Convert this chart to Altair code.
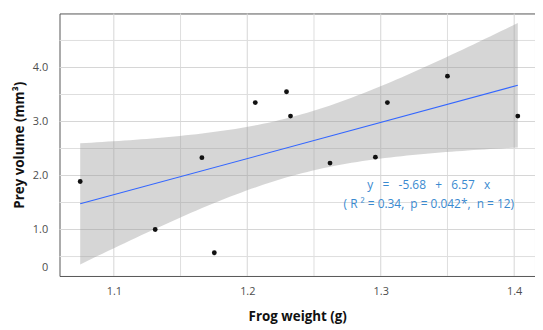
import numpy as np
import pandas as pd
import altair as alt

# data
weight = [1.0748, 1.131, 1.166, 1.1753, 1.206, 1.2294, 1.2324, 1.262, 1.296, 1.305, 1.350, 1.4027]
volume = [1.89, 1.00, 2.33, 0.57, 3.35, 3.55, 3.10, 2.23, 2.34, 3.35, 3.84, 3.10]

x_major = [1.1, 1.2, 1.3, 1.4]
x_minor = [1.15, 1.25, 1.35]
y_major = [1, 2, 3, 4]
y_minor = [0.5, 1.5, 2.5, 3.5, 4.5]
y_tick_values = [0.3, 1, 2, 3, 4]

SP = "\u00a0"
eq_line1 = f"y{SP*3}={SP*3}-5.68{SP*3}+{SP*3}6.57{SP*3}x"
eq_line2 = f"({SP}R{SP}²{SP}={SP}0.34,{SP*2}p{SP}={SP}0.042*,{SP*2}n{SP}={SP}12)"
eq_pos_x = [1.336]
eq_pos_y = [1.83]

x_domain = [1.0593, 1.4156]
y_domain = [0.14, 5.0]

df = pd.DataFrame({"w": weight, "v": volume})

# 95% confidence band of the linear fit, derived from the points
xa = np.array(weight)
ya = np.array(volume)
n = len(xa)
b1, b0 = np.polyfit(xa, ya, 1)
res = ya - (b0 + b1 * xa)
s = np.sqrt((res ** 2).sum() / (n - 2))
sxx = ((xa - xa.mean()) ** 2).sum()
t975 = 2.228  # t quantile, 10 d.f.
xs = np.linspace(xa.min(), xa.max(), 80)
fit = b0 + b1 * xs
se = s * np.sqrt(1 / n + (xs - xa.mean()) ** 2 / sxx)
band = pd.DataFrame({"w": xs, "lo": fit - t975 * se, "hi": fit + t975 * se})

FONT = "Open Sans"
xs_scale = alt.Scale(domain=x_domain, nice=False, zero=False)
ys_scale = alt.Scale(domain=y_domain, nice=False, zero=False)

x_axis = alt.Axis(values=x_major, format=".1f", grid=False, ticks=False, domain=False,
                  labelColor="#4d4d4d", labelFontSize=11, labelPadding=10,
                  title="Frog weight (g)", titleFontSize=13.5, titleFontWeight="bold",
                  titleColor="#111", titlePadding=13, labelFont=FONT, titleFont=FONT)
y_axis = alt.Axis(values=y_tick_values,
                  labelExpr="datum.value < 0.5 ? '0' : format(datum.value, '.1f')",
                  grid=False, ticks=False, domain=False,
                  labelColor="#4d4d4d", labelFontSize=11, labelPadding=12,
                  title="Prey volume (mm³)", titleFontSize=13.5, titleFontWeight="bold",
                  titleColor="#111", titlePadding=6, labelFont=FONT, titleFont=FONT)

X = lambda f: alt.X(f, scale=xs_scale, axis=x_axis)
Y = lambda f: alt.Y(f, scale=ys_scale, axis=y_axis)

gx_major = alt.Chart(pd.DataFrame({"g": x_major})).mark_rule(color="#d6d6d6", strokeWidth=1).encode(
    x=X("g:Q"))
gx_minor = alt.Chart(pd.DataFrame({"g": x_minor})).mark_rule(color="#dedede", strokeWidth=1).encode(
    x=X("g:Q"))
gy_major = alt.Chart(pd.DataFrame({"g": y_major})).mark_rule(color="#d6d6d6", strokeWidth=1).encode(
    y=Y("g:Q"))
gy_minor = alt.Chart(pd.DataFrame({"g": y_minor})).mark_rule(color="#dedede", strokeWidth=1).encode(
    y=Y("g:Q"))

band_layer = alt.Chart(band).mark_area(color="#999999", opacity=0.4).encode(
    x=X("w:Q"), y=Y("lo:Q"), y2="hi:Q")

line_layer = alt.Chart(df).transform_regression("w", "v").mark_line(
    color="#3366FF", strokeWidth=1.1).encode(x=X("w:Q"), y=Y("v:Q"))

points = alt.Chart(df).mark_circle(color="#111111", opacity=1, size=24).encode(
    x=X("w:Q"), y=Y("v:Q"))

ann = pd.DataFrame({"x": eq_pos_x, "y": eq_pos_y, "t": [eq_line1 + "\n" + eq_line2]})
text_layer = alt.Chart(ann).mark_text(color="#3a8ad0", fontSize=12, font=FONT, align="center",
                                      baseline="middle", lineBreak="\n", lineHeight=20).encode(
    x=X("x:Q"), y=Y("y:Q"), text="t:N")

chart = alt.layer(gx_minor, gx_major, gy_minor, gy_major, band_layer, line_layer, points, text_layer).properties(
    width=480, height=265,
    autosize=alt.AutoSizeParams(type="none"),
    padding={"left": 52, "top": 4, "right": 0, "bottom": 52},
    background="white",
).configure_view(stroke="#555555", strokeWidth=1)

chart.save("out.html", embed_options={"renderer": "svg", "actions": False})
